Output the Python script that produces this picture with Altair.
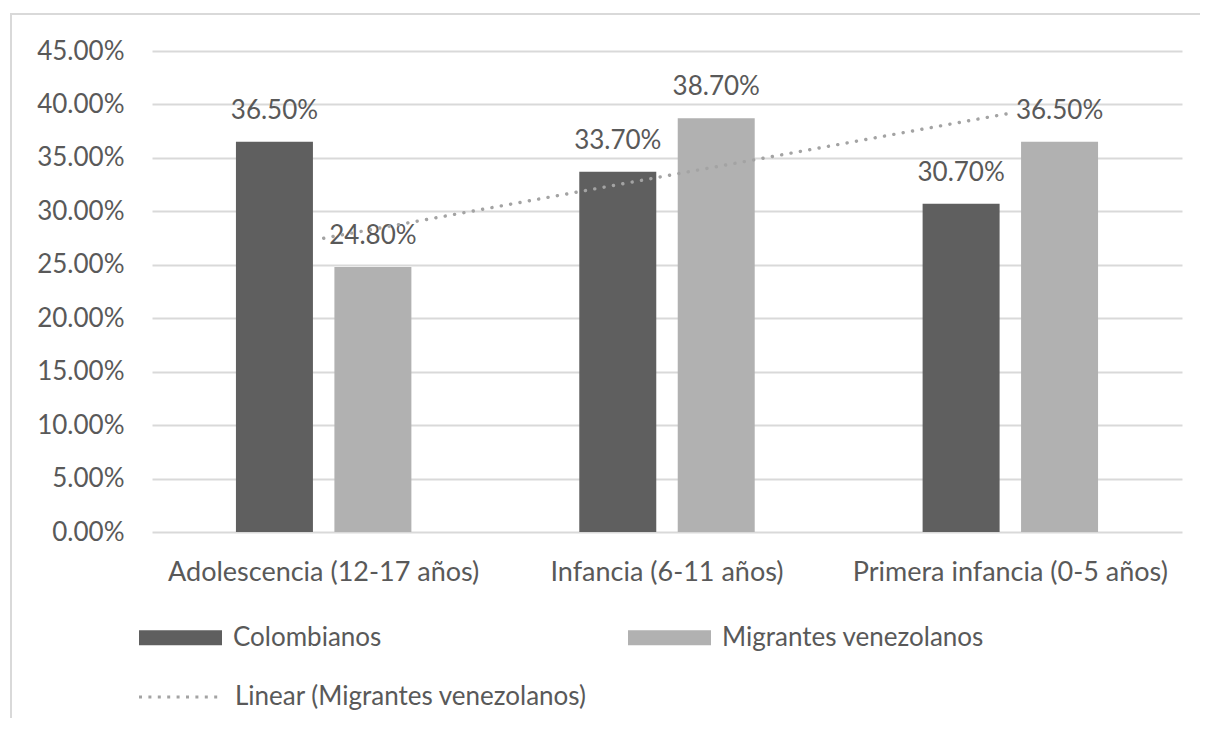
import altair as alt
import pandas as pd

# ---- data ----
categories = ["Adolescencia (12-17 años)", "Infancia (6-11 años)", "Primera infancia (0-5 años)"]
colombianos = [0.365, 0.337, 0.307]
migrantes = [0.248, 0.387, 0.365]
series_names = ["Colombianos", "Migrantes venezolanos"]
trend_name = "Linear (Migrantes venezolanos)"
y_ticks = [0.0, 0.05, 0.10, 0.15, 0.20, 0.25, 0.30, 0.35, 0.40, 0.45]

rows = []
for i, cat in enumerate(categories):
    rows.append({"categoria": cat, "idx": i + 1, "serie": series_names[0], "valor": colombianos[i]})
    rows.append({"categoria": cat, "idx": i + 1, "serie": series_names[1], "valor": migrantes[i]})
df = pd.DataFrame(rows)

DARK = "#5f5f5f"
LIGHT = "#b1b1b1"
TREND = "#a3a3a3"
TEXT = "#595959"
GRID = "#d9d9d9"
FONT = "Lato"
FS = 26
RECT = "M-1,-0.181H1V0.181H-1Z"
DOT = [0.1, 9.4]

bar_legend = alt.Legend(
    title=None,
    orient="none",
    legendX=-13,
    legendY=545,
    columns=2,
    columnPadding=246,
    padding=0,
    symbolType=RECT,
    symbolSize=6889,
    symbolStrokeWidth=0,
    labelFont=FONT,
    labelFontSize=FS,
    labelColor=TEXT,
    labelOffset=11,
    labelLimit=0,
)

trend_legend = alt.Legend(
    title=None,
    orient="none",
    legendX=-15,
    legendY=604,
    padding=0,
    symbolType="stroke",
    symbolSize=6400,
    symbolStrokeWidth=3.2,
    symbolDash=[3, 6.4],
    symbolStrokeColor=TREND,
    labelFont=FONT,
    labelFontSize=FS,
    labelColor=TEXT,
    labelOffset=14,
    labelLimit=0,
)

x_enc = alt.X(
    "categoria:N",
    sort=categories,
    scale=alt.Scale(paddingInner=0.489, paddingOuter=0.2445),
    axis=alt.Axis(
        title=None,
        labelAngle=0,
        labelFont=FONT,
        labelFontSize=27,
        labelColor=TEXT,
        labelPadding=27,
        ticks=False,
        tickSize=0,
        domain=False,
        grid=False,
        labelLimit=0,
    ),
)
xoff_enc = alt.XOffset("serie:N", sort=series_names, scale=alt.Scale(paddingInner=0.218, paddingOuter=0))
y_enc = alt.Y(
    "valor:Q",
    scale=alt.Scale(domain=[0, 0.45], nice=False),
    axis=alt.Axis(
        title=None,
        values=y_ticks,
        format=".2%",
        labelFont=FONT,
        labelFontSize=FS,
        labelColor=TEXT,
        labelPadding=28,
        ticks=False,
        tickSize=0,
        domain=False,
        grid=True,
        gridColor=GRID,
        gridWidth=2,
    ),
)

base = alt.Chart(df)

bars = base.mark_bar().encode(
    x=x_enc,
    xOffset=xoff_enc,
    y=y_enc,
    color=alt.Color("serie:N", scale=alt.Scale(domain=series_names, range=[DARK, LIGHT]), legend=bar_legend),
)

labels = base.mark_text(dy=-23, baseline="alphabetic", font=FONT, fontSize=FS, color=TEXT).encode(
    x=x_enc,
    xOffset=xoff_enc,
    y=alt.Y("valor:Q"),
    text=alt.Text("valor:Q", format=".2%"),
)

trend = (
    base.transform_filter(alt.datum.serie == series_names[1])
    .transform_regression("idx", "valor", method="linear")
    .transform_calculate(serie=f"'{trend_name}'")
    .mark_line(strokeWidth=3.4, strokeDash=DOT, strokeCap="round")
    .encode(
        x=alt.X("idx:Q", scale=alt.Scale(domain=[0.5, 3.5], nice=False, zero=False), axis=None),
        y=alt.Y("valor:Q"),
        stroke=alt.Stroke("serie:N", scale=alt.Scale(domain=[trend_name], range=[TREND]), legend=trend_legend),
    )
)

frame = alt.Chart(pd.DataFrame({"k": [0]})).mark_rect(fill="transparent", stroke=GRID, strokeWidth=2).encode(
    x=alt.value(-141), x2=alt.value(1100), y=alt.value(-37), y2=alt.value(720)
)

chart = (
    alt.layer(frame, alt.layer(bars, labels), trend)
    .resolve_scale(x="independent")
    .properties(
        width=1030,
        height=481,
        padding={"left": 144, "top": 43, "right": 18, "bottom": 186},
        autosize=alt.AutoSizeParams(type="none"),
    )
    .configure_view(stroke=None)
)

chart.save("out.html", embed_options={"renderer": "svg", "actions": False})
